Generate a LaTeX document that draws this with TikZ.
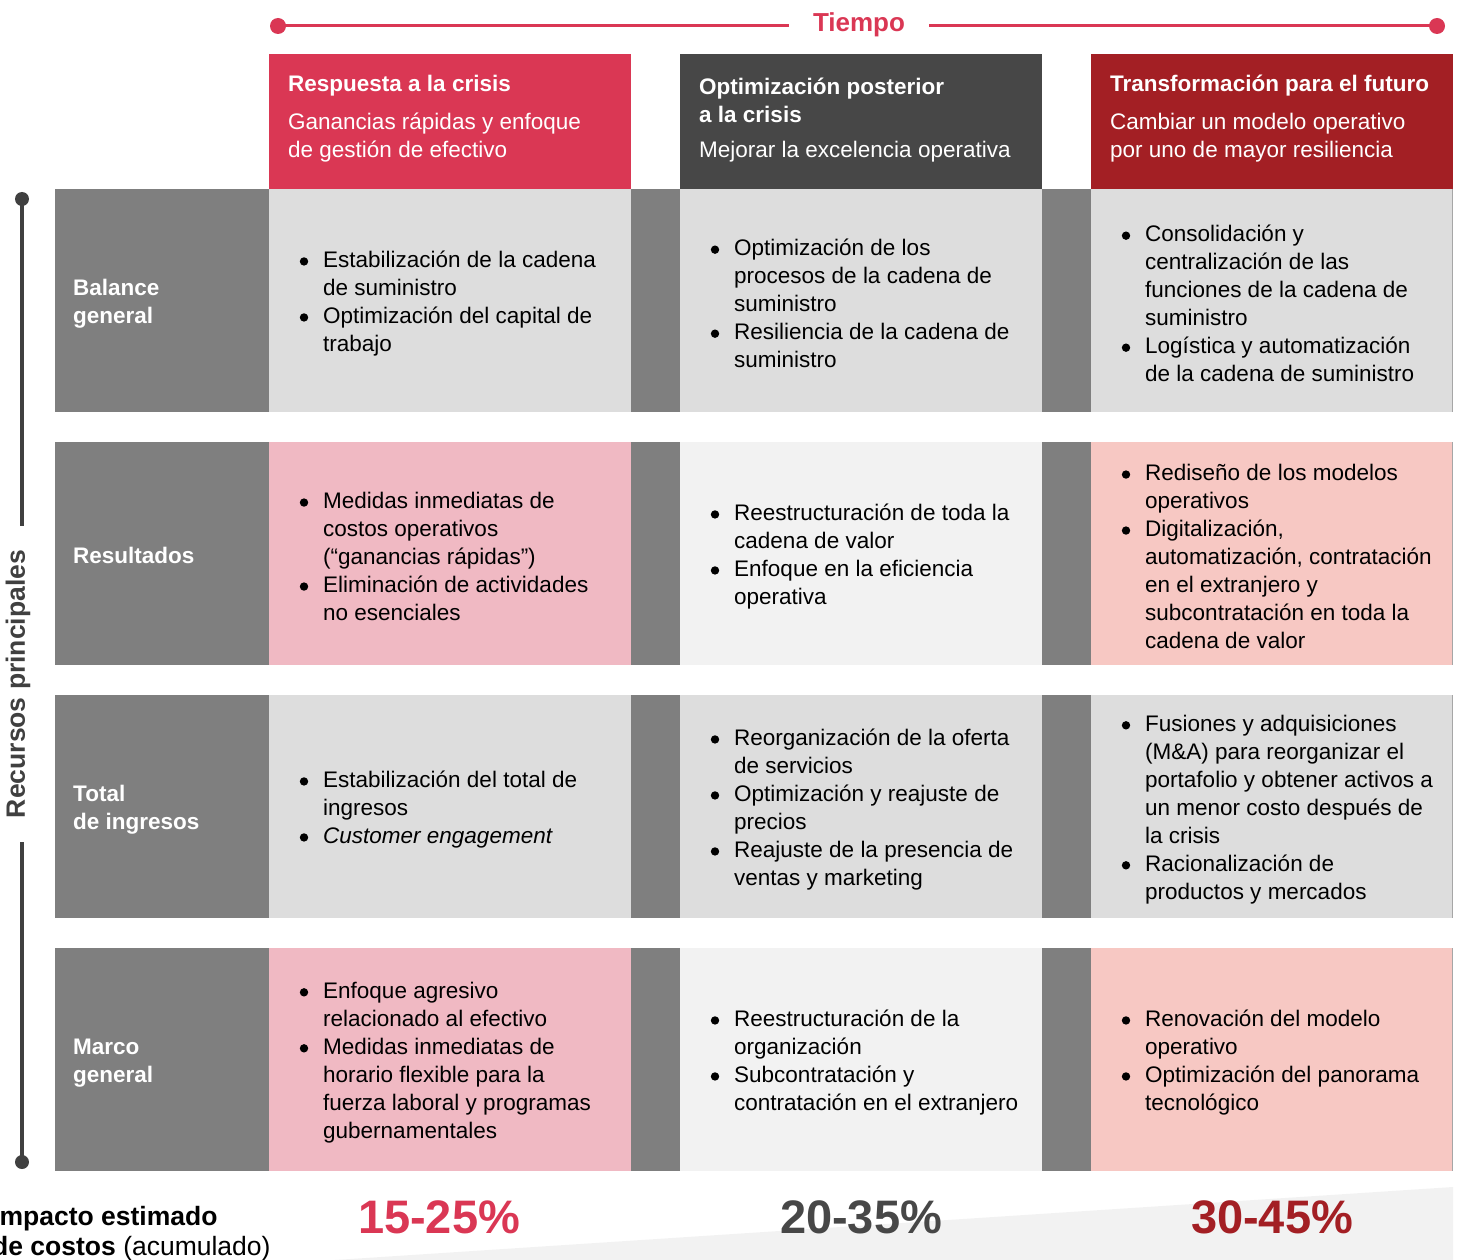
\documentclass[tikz,border=0pt]{standalone}
\usepackage{fontspec}
\setmainfont{Liberation Sans}
\definecolor{hred}{HTML}{DA3754}
\definecolor{hdark}{HTML}{474747}
\definecolor{hdred}{HTML}{A31F24}
\definecolor{labgray}{HTML}{7F7F7F}
\definecolor{lg}{HTML}{DDDDDD}
\definecolor{pk}{HTML}{F0B9C3}
\definecolor{vl}{HTML}{F2F2F2}
\definecolor{sa}{HTML}{F7C8C3}
\definecolor{axis}{HTML}{404040}
\definecolor{edge}{HTML}{A6A6A6}
\newcommand\bul{\leavevmode\llap{\tikz[x=1pt,y=1pt,baseline=0pt]\fill[black] (4,6) circle (4.2);\hspace{15pt}}}
\begin{document}
\begin{tikzpicture}[x=1pt,y=-1pt,
  box/.style={inner sep=0, outer sep=0, anchor=north west, draw=none},
  txt/.style={inner sep=0, anchor=west, align=left, font=\fontsize{22.5}{28}\selectfont},
  wtxt/.style={txt, text=white},
  btxt/.style={txt, text=white, font=\fontsize{22.5}{28}\selectfont\bfseries},
  pct/.style={inner sep=0, font=\fontsize{47}{47}\selectfont\bfseries},
  tdot/.style={circle, fill=hred, inner sep=0, minimum size=16},
  vdot/.style={circle, fill=axis, inner sep=0, minimum size=14}]
\useasboundingbox (0,0) rectangle (1458,1260);
% wedge
\fill[vl] (335,1260) -- (1453,1187) -- (1453,1260) -- cycle;
% timeline
\node[tdot] (t0) at (278,26) {};
\node[tdot] (t1) at (1437,26) {};
\node[inner xsep=24, inner ysep=0, text=hred, font=\fontsize{26}{26}\selectfont\bfseries] (tiempo) at (859,25) {Tiempo};
\draw[hred, line width=3] (t0.center) -- (t0.center -| tiempo.west);
\draw[hred, line width=3] (t1.center -| tiempo.east) -- (t1.center);
% vertical axis
\node[vdot] (v0) at (22,199) {};
\node[vdot] (v1) at (22,1162) {};
\node[rotate=90, inner xsep=24, inner ysep=0, text=axis, font=\fontsize{26.5}{26.5}\selectfont\bfseries] (rp) at (18,684) {Recursos principales};
\draw[axis, line width=3.5] (v0.center) -- (v0.center |- rp.east);
\draw[axis, line width=3.5] (v1.center |- rp.west) -- (v1.center);
% headers
\node[box, fill=hred, minimum width=362, minimum height=135] (h1) at (269,54) {};
\node[box, fill=hdark, minimum width=362, minimum height=135] (h2) at (680,54) {};
\node[box, fill=hdred, minimum width=362, minimum height=135] (h3) at (1091,54) {};
\node[btxt] (h1t) at (288,86) {Respuesta a la crisis};
\node[wtxt] (h1s) at (288,138) {Ganancias rápidas y enfoque\\de gestión de efectivo};
\node[btxt] (h2t) at (699,100) {Optimización posterior\\a la crisis};
\node[wtxt] (h2s) at (699,152) {Mejorar la excelencia operativa};
\node[btxt] (h3t) at (1110,86) {Transformación para el futuro};
\node[wtxt] (h3s) at (1110,138) {Cambiar un modelo operativo\\por uno de mayor resiliencia};
% rows
\foreach \r/\y/\ca/\cb/\cc in {1/189/lg/lg/lg, 2/442/pk/vl/sa, 3/695/lg/lg/lg, 4/948/pk/vl/sa}{
  \node[box, fill=labgray, minimum width=214, minimum height=223] (lab\r) at (55,\y) {};
  \node[box, fill=\ca, minimum width=362, minimum height=223] (c\r a) at (269,\y) {};
  \node[box, fill=labgray, minimum width=49, minimum height=223] (s\r a) at (631,\y) {};
  \node[box, fill=\cb, minimum width=362, minimum height=223] (c\r b) at (680,\y) {};
  \node[box, fill=labgray, minimum width=49, minimum height=223] (s\r b) at (1042,\y) {};
  \node[box, fill=\cc, minimum width=362, minimum height=223] (c\r c) at (1091,\y) {};
  \draw[edge, line width=1] ([xshift=-0.5]c\r c.north east) -- ([xshift=-0.5]c\r c.south east);
}
% row labels
\node[btxt] (l1) at (73,304) {Balance\\general};
\node[btxt] (l2) at (73,555) {Resultados};
\node[btxt] (l3) at (73,810) {Total\\de ingresos};
\node[btxt] (l4) at (73,1063) {Marco\\general};
% row 1
\node[txt] (x1a) at (323,303.5) {\bul Estabilización de la cadena\\de suministro\\\bul Optimización del capital de\\trabajo};
\node[txt] (x1b) at (734,303.5) {\bul Optimización de los\\procesos de la cadena de\\suministro\\\bul Resiliencia de la cadena de\\suministro};
\node[txt] (x1c) at (1145,303.5) {\bul Consolidación y\\centralización de las\\funciones de la cadena de\\suministro\\\bul Logística y automatización\\de la cadena de suministro};
% row 2
\node[txt] (x2a) at (323,556.5) {\bul Medidas inmediatas de\\costos operativos\\(“ganancias rápidas”)\\\bul Eliminación de actividades\\no esenciales};
\node[txt] (x2b) at (734,556.5) {\bul Reestructuración de toda la\\cadena de valor\\\bul Enfoque en la eficiencia\\operativa};
\node[txt] (x2c) at (1145,556.5) {\bul Rediseño de los modelos\\operativos\\\bul Digitalización,\\automatización, contratación\\en el extranjero y\\subcontratación en toda la\\cadena de valor};
% row 3
\node[txt] (x3a) at (323,809.5) {\bul Estabilización del total de\\ingresos\\\bul \textit{Customer engagement}};
\node[txt] (x3b) at (734,809.5) {\bul Reorganización de la oferta\\de servicios\\\bul Optimización y reajuste de\\precios\\\bul Reajuste de la presencia de\\ventas y marketing};
\node[txt] (x3c) at (1145,809.5) {\bul Fusiones y adquisiciones\\(M\&A) para reorganizar el\\portafolio y obtener activos a\\un menor costo después de\\la crisis\\\bul Racionalización de\\productos y mercados};
% row 4
\node[txt] (x4a) at (323,1062.5) {\bul Enfoque agresivo\\relacionado al efectivo\\\bul Medidas inmediatas de\\horario flexible para la\\fuerza laboral y programas\\gubernamentales};
\node[txt] (x4b) at (734,1062.5) {\bul Reestructuración de la\\organización\\\bul Subcontratación y\\contratación en el extranjero};
\node[txt] (x4c) at (1145,1062.5) {\bul Renovación del modelo\\operativo\\\bul Optimización del panorama\\tecnológico};
% bottom
\node[txt, font=\fontsize{26.5}{30}\selectfont] (imp) at (-8,1234) {\textbf{Impacto estimado}\\\textbf{de costos} (acumulado)};
\node[pct, text=hred] (p1) at (439,1217) {15-25\%};
\node[pct, text=hdark] (p2) at (861,1217) {20-35\%};
\node[pct, text=hdred] (p3) at (1272,1217) {30-45\%};
\end{tikzpicture}
\end{document}
